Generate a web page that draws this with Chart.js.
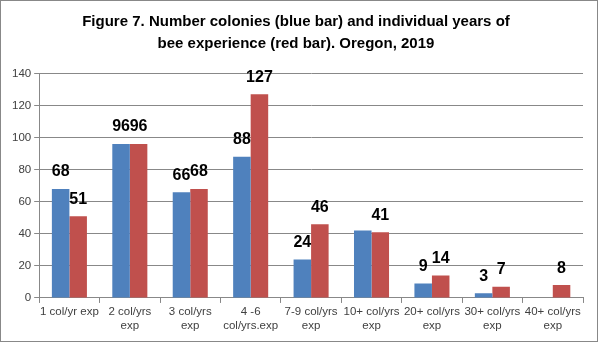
<!DOCTYPE html>
<html>
<head>
<meta charset="utf-8">
<script src="https://cdn.jsdelivr.net/npm/chart.js@4/dist/chart.umd.min.js"></script>
<style>
html,body{margin:0;padding:0;background:#fff;}
#wrap{position:relative;width:598px;height:342px;box-sizing:border-box;border:1px solid #888;}
canvas{display:block;}
</style>
</head>
<body>
<div id="wrap"><canvas id="c" width="596" height="340" style="width:596px;height:340px"></canvas></div>
<script>
const categories = [["1 col/yr exp"],["2 col/yrs","exp"],["3 col/yrs","exp"],["4 -6","col/yrs.exp"],["7-9 col/yrs","exp"],["10+ col/yrs","exp"],["20+ col/yrs","exp"],["30+ col/yrs","exp"],["40+ col/yrs","exp"]];
const colonies = [68, 96, 66, 88, 24, 42, 9, 3, 0];
const yearsExp = [51, 96, 68, 127, 46, 41, 14, 7, 8];
const coloniesLabels = ["68","96","66","88","24","","9","3",""];
const yearsLabels = ["51","96","68","127","46","41","14","7","8"];
const yTicks = [0,20,40,60,80,100,120,140];
const titleLines = ["Figure 7. Number colonies (blue bar) and individual years of","bee experience (red bar). Oregon, 2019"];

const labelPlugin = {
  id: 'barLabels',
  afterDatasetsDraw(chart) {
    const ctx = chart.ctx;
    ctx.save();
    ctx.font = 'bold 16px "Liberation Sans", Arial, sans-serif';
    ctx.fillStyle = '#000';
    ctx.textAlign = 'center';
    ctx.textBaseline = 'bottom';
    chart.data.datasets.forEach((ds, di) => {
      const meta = chart.getDatasetMeta(di);
      meta.data.forEach((bar, i) => {
        const t = ds.labelsText[i];
        if (!t) return;
        ctx.fillText(t, bar.x, bar.y - 9);
      });
    });
    ctx.restore();
  }
};

new Chart(document.getElementById('c'), {
  type: 'bar',
  data: {
    labels: categories,
    datasets: [
      {label: 'Colonies', data: colonies, labelsText: coloniesLabels, backgroundColor: '#4F81BD', categoryPercentage: 0.58, barPercentage: 1.0},
      {label: 'Years of experience', data: yearsExp, labelsText: yearsLabels, backgroundColor: '#C0504D', categoryPercentage: 0.58, barPercentage: 1.0}
    ]
  },
  options: {
    responsive: false,
    animation: false,
    devicePixelRatio: 1,
    layout: {padding: {left: 8, right: 14, top: 4, bottom: 6}},
    plugins: {
      legend: {display: false},
      tooltip: {enabled: false},
      title: {
        display: true,
        text: titleLines,
        color: '#000',
        font: {family: '"Liberation Sans", Arial, sans-serif', size: 15, weight: 'bold', lineHeight: 1.45},
        padding: {top: 6, bottom: 19}
      }
    },
    scales: {
      x: {
        grid: {display: true, drawOnChartArea: false, drawTicks: true, tickLength: 5, color: '#888', offset: true},
        border: {display: true, color: '#888'},
        ticks: {color: '#404040', font: {family: '"Liberation Sans", Arial, sans-serif', size: 11.5, lineHeight: 1.22}, maxRotation: 0, autoSkip: false, padding: 2}
      },
      y: {
        min: 0, max: 140,
        afterBuildTicks(scale) { scale.ticks = yTicks.map(v => ({value: v})); },
        grid: {color: '#888', tickLength: 5, drawTicks: true},
        border: {display: true, color: '#888'},
        ticks: {color: '#404040', font: {family: '"Liberation Sans", Arial, sans-serif', size: 11.5}, padding: 3}
      }
    }
  },
  plugins: [labelPlugin]
});
</script>
</body>
</html>
